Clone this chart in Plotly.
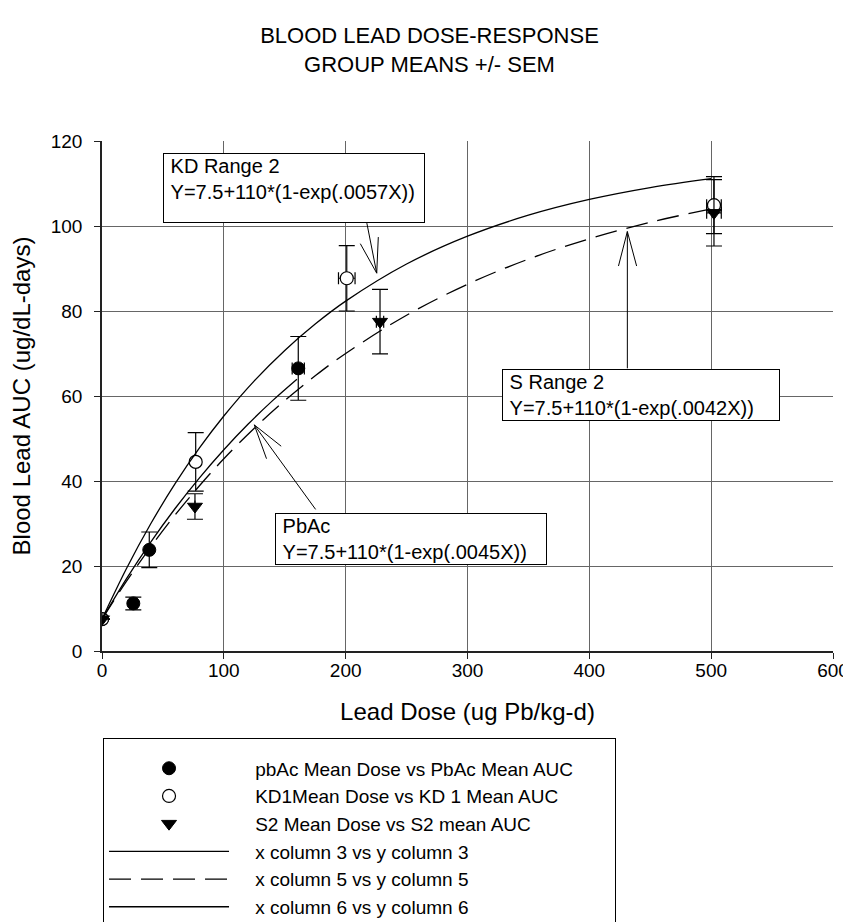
import plotly.graph_objects as go

# ---- data ----
pbac_dose = [0, 25.7, 38.8, 161.1]
pbac_auc = [7.5, 11.2, 23.8, 66.5]
pbac_auc_sem = [0, 1.5, 4.2, 7.5]
pbac_dose_sem = [0, 3, 0, 5]

kd_dose = [0, 76.9, 200.9, 502.3]
kd_auc = [7.5, 44.5, 87.7, 104.9]
kd_auc_sem = [0, 6.9, 7.7, 6.7]
kd_dose_sem = [0, 0, 6.8, 6]

s2_dose = [0, 76.3, 228.2, 502.3]
s2_auc = [7.5, 34.0, 77.5, 103.1]
s2_auc_sem = [0, 3.0, 7.6, 7.8]
s2_dose_sem = [0, 0, 3, 6]

# fitted curves (x column / y column)
col3_x = [0, 20, 40, 60, 80, 100, 120, 140, 160]
col3_y = [7.5, 16.97, 25.62, 33.53, 40.75, 47.36, 53.40, 58.91, 63.95]
col5_x = [0, 20, 40, 60, 80, 100, 125, 150, 175, 200, 250, 300, 350, 400, 450, 500]
col5_y = [7.5, 16.36, 24.50, 32.00, 38.89, 45.23, 52.42, 58.91, 64.75, 70.01,
          79.01, 86.29, 92.21, 97.00, 100.88, 104.03]
col6_x = [0, 20, 40, 60, 80, 100, 125, 150, 175, 200, 250, 300, 350, 400, 450, 500]
col6_y = [7.5, 19.35, 29.93, 39.37, 47.78, 55.29, 63.56, 70.72, 76.93, 82.32,
          91.05, 97.60, 102.54, 106.25, 109.04, 111.14]

x_ticks = [0, 100, 200, 300, 400, 500, 600]
y_ticks = [0, 20, 40, 60, 80, 100, 120]

names = [
    "pbAc Mean Dose vs PbAc Mean AUC",
    "KD1Mean Dose vs KD 1 Mean AUC",
    "S2 Mean Dose vs S2 mean AUC",
    "x column 3 vs y column 3",
    "x column 5 vs y column 5",
    "x column 6 vs y column 6",
]
NB = "\u00a0"
legend_names = [NB * 4 + n for n in names]
legend_names[0] = legend_names[0] + NB * 7

FONT = "Liberation Sans, Arial, sans-serif"
ERR = dict(color="black", thickness=1.2, width=8)
ERRX = dict(color="black", thickness=1.2, width=6)

fig = go.Figure()

fig.add_trace(go.Scatter(
    x=pbac_dose, y=pbac_auc, mode="markers", name=legend_names[0],
    marker=dict(symbol="circle", size=13, color="black", line=dict(color="black", width=1)),
    error_y=dict(type="data", array=pbac_auc_sem, **ERR),
    error_x=dict(type="data", array=pbac_dose_sem, **ERRX),
))
fig.add_trace(go.Scatter(
    x=kd_dose, y=kd_auc, mode="markers", name=legend_names[1],
    marker=dict(symbol="circle", size=13, color="white", line=dict(color="black", width=1.2)),
    error_y=dict(type="data", array=kd_auc_sem, **ERR),
    error_x=dict(type="data", array=kd_dose_sem, **ERRX),
))
fig.add_trace(go.Scatter(
    x=s2_dose, y=s2_auc, mode="markers", name=legend_names[2],
    marker=dict(symbol="triangle-down", size=13, color="black", line=dict(color="black", width=1)),
    error_y=dict(type="data", array=s2_auc_sem, **ERR),
    error_x=dict(type="data", array=s2_dose_sem, **ERRX),
))
fig.add_trace(go.Scatter(
    x=col3_x, y=col3_y, mode="lines", name=legend_names[3],
    line=dict(color="black", width=1.3, shape="spline"),
))
fig.add_trace(go.Scatter(
    x=col5_x, y=col5_y, mode="lines", name=legend_names[4],
    line=dict(color="black", width=1.3, dash="22px,10px", shape="spline"),
))
fig.add_trace(go.Scatter(
    x=col6_x, y=col6_y, mode="lines", name=legend_names[5],
    line=dict(color="black", width=1.3, shape="spline"),
))

# ---- text boxes ----
box_style = dict(xref="paper", yref="paper", xanchor="left", yanchor="top",
                 showarrow=False, align="left", bordercolor="black", borderwidth=1,
                 borderpad=1, bgcolor="white", font=dict(family=FONT, size=20, color="black"))
fig.add_annotation(x=0.0839, y=0.977, width=258, height=66, valign="top",
                   text=NB + "KD Range 2<br>" + NB + "Y=7.5+110*(1-exp(.0057X))", **box_style)
fig.add_annotation(x=0.5468, y=0.553, width=274,
                   text=NB + "S Range 2<br>" + NB + "Y=7.5+110*(1-exp(.0042X))", **box_style)
fig.add_annotation(x=0.2367, y=0.270, width=268,
                   text=NB + "PbAc<br>" + NB + "Y=7.5+110*(1-exp(.0045X))", **box_style)

# ---- open arrows: shaft + two barbs (pixel offsets from the tip) ----
arrows = [
    ((225.5, 88.9), [(-10, -50.6), (-16.7, -30), (1.6, -36.6)]),
    ((431.2, 98.7), [(0, 137.3), (-9, 35), (9.4, 35)]),
    ((125.0, 53.2), [(61.7, 85), (12.4, 34.3), (27.4, 21.7)]),
]
for (tx, ty), segs in arrows:
    for ax, ay in segs:
        fig.add_annotation(x=tx, y=ty, xref="x", yref="y", text="", showarrow=True,
                           arrowhead=0, arrowwidth=1, arrowcolor="black",
                           ax=ax, ay=ay, borderpad=0, standoff=0, startstandoff=0)

axis_common = dict(
    showline=True, linecolor="#222222", linewidth=1.5,
    ticks="outside", ticklen=6, tickwidth=1.2, tickcolor="#222222",
    showgrid=True, gridcolor="#666666", gridwidth=1,
    zeroline=False, tickfont=dict(family=FONT, size=19, color="black"),
)

W, H = 843, 914
fig.update_layout(
    width=W, height=H,
    paper_bgcolor="white", plot_bgcolor="white",
    margin=dict(l=94, r=18.4, t=133, b=271, autoexpand=False),
    font=dict(family=FONT, color="black"),
    title=dict(text="BLOOD LEAD DOSE-RESPONSE<br>GROUP MEANS +/- SEM",
               x=0.5, xref="container", xanchor="center",
               y=1 - 35 / H, yref="container", yanchor="top",
               font=dict(family=FONT, size=22, color="black")),
    xaxis=dict(range=[0, 600], tickvals=x_ticks, ticklabelstandoff=-5, **axis_common,
               title=dict(text="Lead Dose (ug Pb/kg-d)", standoff=24,
                          font=dict(family=FONT, size=24, color="black"))),
    yaxis=dict(range=[0, 120], tickvals=y_ticks, ticklabelstandoff=8, **axis_common,
               title=dict(text="Blood Lead AUC (ug/dL-days)", standoff=14,
                          font=dict(family=FONT, size=24, color="black"))),
    showlegend=True,
    legend=dict(x=0.0014, y=-0.1706, xanchor="left", yanchor="top",
                bordercolor="black", borderwidth=1, bgcolor="white",
                itemwidth=120, tracegroupgap=0,
                title=dict(text=NB, font=dict(family=FONT, size=8)),
                font=dict(family=FONT, size=19, color="black")),
)

fig.write_html("out.html")
